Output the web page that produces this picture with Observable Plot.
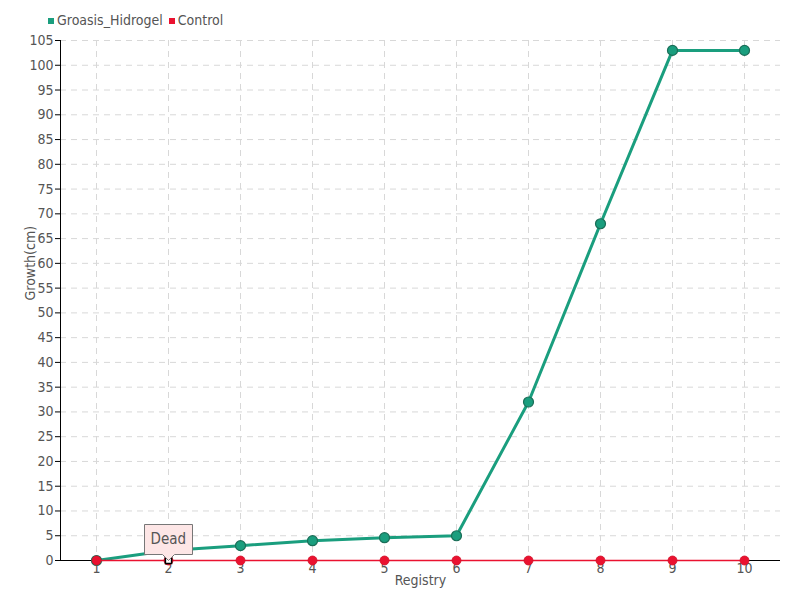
<!DOCTYPE html>
<html>
<head>
<meta charset="utf-8">
<script src="https://cdn.jsdelivr.net/npm/d3@7"></script>
<script src="https://cdn.jsdelivr.net/npm/@observablehq/plot@0.6"></script>
<style>
  body { margin: 0; background: #fff; font-family: "DejaVu Sans Condensed", sans-serif; }
  #wrap { position: relative; width: 800px; height: 600px; }
  #legend { position: absolute; left: 48px; top: 12px; font-size: 14px; color: #555; display: flex; gap: 6px; align-items: center; }
  #legend span.sw { display: inline-block; width: 6px; height: 6px; margin-right: 3px; vertical-align: middle; }
</style>
</head>
<body>
<div id="wrap">
  <div id="legend"></div>
</div>
<script>
const registry = [1, 2, 3, 4, 5, 6, 7, 8, 9, 10];
const groasis = [0, 2, 3, 4, 4.6, 5, 32, 68, 103, 103];
const control = [0, 0, 0, 0, 0, 0, 0, 0, 0, 0];
const seriesNames = ["Groasis_Hidrogel", "Control"];
const seriesColors = ["#1a9e7e", "#ea1230"];
const yTicks = d3.range(0, 106, 5);
const tipNotes = [{x: 2, y: 0, label: "Dead"}];

const gData = registry.map((r, i) => ({x: r, y: groasis[i]}));
const cData = registry.map((r, i) => ({x: r, y: control[i]}));

const legend = document.getElementById("legend");
seriesNames.forEach((n, i) => {
  const d = document.createElement("div");
  d.innerHTML = `<span class="sw" style="background:${seriesColors[i]}"></span>${n}`;
  legend.appendChild(d);
});

const plot = Plot.plot({
  width: 800,
  height: 600,
  marginTop: 40,
  marginBottom: 40,
  marginLeft: 60,
  marginRight: 20,
  style: {fontFamily: "'DejaVu Sans Condensed', sans-serif", fontSize: "14px", background: "#fff", color: "#555"},
  x: {domain: [0.5, 10.5]},
  y: {domain: [0, 105]},
  marks: [
    Plot.gridY(yTicks.filter(t => t > 0), {stroke: "#d8d8d8", strokeOpacity: 1, strokeDasharray: "6,5"}),
    Plot.gridX(registry, {stroke: "#d8d8d8", strokeOpacity: 1, strokeDasharray: "6,5"}),
    Plot.axisY(yTicks, {tickSize: 5, tickPadding: 2, fill: "#555", stroke: "#000", label: null}),
    Plot.axisX(registry, {tickSize: 0, tickPadding: 3, fill: "#555", label: null}),
    Plot.text(["Growth(cm)"], {frameAnchor: "left", dx: -30, rotate: -90, fill: "#555", fontSize: 14}),
    Plot.text(["Registry"], {frameAnchor: "bottom", dy: 24, fill: "#555", fontSize: 14}),
    Plot.ruleX([0.5], {stroke: "#000"}),
    Plot.ruleY([0], {stroke: "#000"}),
    Plot.line(gData, {x: "x", y: "y", stroke: seriesColors[0], strokeWidth: 3}),
    Plot.dot(gData, {x: "x", y: "y", r: 5, fill: seriesColors[0], stroke: "#1b6e58", strokeWidth: 1.2}),
    Plot.line(cData, {x: "x", y: "y", stroke: seriesColors[1], strokeWidth: 1.5}),
    Plot.dot(cData, {x: "x", y: "y", r: 4.5, fill: seriesColors[1], stroke: "#d01028", strokeWidth: 0.8}),
    Plot.dot(tipNotes, {x: "x", y: "y", r: 3.5, symbol: "square", fill: "#fff", stroke: "#000", strokeWidth: 1.5}),
    Plot.tip(tipNotes, {x: "x", y: "y", title: "label", anchor: "bottom", fill: "#fde6e6", stroke: "#777", fontSize: 15, textPadding: 6, pathFilter: "none", fontFamily: "'DejaVu Sans Condensed', sans-serif"})
  ]
});
plot.style.position = "absolute";
plot.style.left = "0";
plot.style.top = "0";
document.getElementById("wrap").insertBefore(plot, legend);
</script>
</body>
</html>
